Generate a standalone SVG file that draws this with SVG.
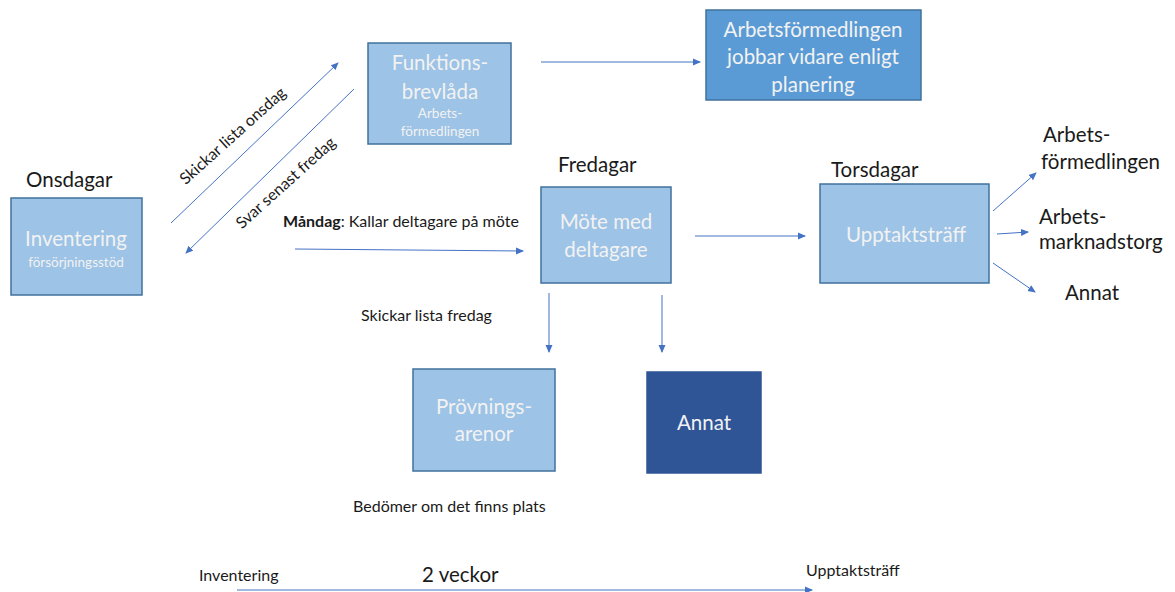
<svg xmlns="http://www.w3.org/2000/svg" width="1175" height="592" viewBox="0 0 1175 592">
<style>
text{font-family:Lato,"Open Sans","Liberation Sans",sans-serif}
.box{fill:#9dc3e6;stroke:#41719c;stroke-width:1.5}
.dark{fill:#2f5597;stroke:#2f5597;stroke-width:1.5}
.mid{fill:#5b9bd5;stroke:#41719c;stroke-width:1.5}
.bt{fill:#f2f2f2;font-size:20.5px;text-anchor:middle}
.bs{fill:#f2f2f2;font-size:13.5px;text-anchor:middle}
.lb{fill:#1a1a1a;font-size:20.5px}
.sm{fill:#1a1a1a;font-size:16px}
.ln{stroke:#4472c4;stroke-width:1;fill:none;marker-end:url(#ah)}
</style>
<defs>
<marker id="ah" markerWidth="8" markerHeight="8" refX="7" refY="4" orient="auto" markerUnits="userSpaceOnUse">
<path d="M0,0.5 L8,4 L0,7.5 Z" fill="#4472c4"/>
</marker>
</defs>
<rect width="1175" height="592" fill="#fff"/>
<g id="connectors">
<line class="ln" x1="171" y1="223" x2="338" y2="63"/>
<line class="ln" x1="354" y1="89" x2="186" y2="253"/>
<line class="ln" x1="295" y1="249" x2="523" y2="251"/>
<line class="ln" x1="541" y1="62" x2="700" y2="62"/>
<line class="ln" x1="695" y1="236" x2="805" y2="236"/>
<line class="ln" x1="993" y1="211" x2="1036" y2="173"/>
<line class="ln" x1="997" y1="234" x2="1028" y2="232"/>
<line class="ln" x1="993" y1="263" x2="1035" y2="292"/>
<line class="ln" x1="549" y1="293" x2="549" y2="352"/>
<line class="ln" x1="662" y1="295" x2="662" y2="352"/>
<line class="ln" x1="237" y1="590" x2="812" y2="590"/>
</g>
<g id="labels">
<text class="sm" transform="translate(233,136) rotate(-42)" text-anchor="middle" dy="5">Skickar lista onsdag</text>
<text class="sm" transform="translate(286,183) rotate(-42)" text-anchor="middle" dy="5">Svar senast fredag</text>
<text class="sm" x="283" y="227"><tspan font-weight="bold">Måndag</tspan>: Kallar deltagare på möte</text>
<text class="lb" x="26" y="187">Onsdagar</text>
<text class="lb" x="558" y="172">Fredagar</text>
<text class="lb" x="831" y="177">Torsdagar</text>
<text class="lb" x="1043" y="142">Arbets-</text>
<text class="lb" x="1041" y="169">förmedlingen</text>
<text class="lb" x="1039" y="224">Arbets-</text>
<text class="lb" x="1039" y="249">marknadstorg</text>
<text class="lb" x="1065" y="300">Annat</text>
<text class="sm" x="361" y="321">Skickar lista fredag</text>
<text class="sm" x="353" y="512">Bedömer om det finns plats</text>
<text class="sm" x="199" y="581" font-size="15.5">Inventering</text>
<text class="lb" x="422" y="582">2 veckor</text>
<text class="sm" x="806" y="576" font-size="15.5">Upptaktsträff</text>
</g>
<g id="inventering">
<rect class="box" x="11" y="198" width="131" height="97"/>
<text class="bt" x="76" y="246">Inventering</text>
<text class="bs" x="76" y="267">försörjningsstöd</text>
</g>
<g id="funktionsbrevlada">
<rect class="box" x="368" y="43" width="143" height="101"/>
<text class="bt" x="440" y="70">Funktions-</text>
<text class="bt" x="440" y="99">brevlåda</text>
<text class="bs" x="440" y="118" font-size="14">Arbets-</text>
<text class="bs" x="440" y="136" font-size="14">förmedlingen</text>
</g>
<g id="arbetsformedlingen">
<rect class="mid" x="706" y="10" width="215" height="90"/>
<text class="bt" x="813" y="37">Arbetsförmedlingen</text>
<text class="bt" x="813" y="64">jobbar vidare enligt</text>
<text class="bt" x="813" y="92">planering</text>
</g>
<g id="mote">
<rect class="box" x="541" y="187" width="130" height="96"/>
<text class="bt" x="606" y="229">Möte med</text>
<text class="bt" x="606" y="257">deltagare</text>
</g>
<g id="upptakt">
<rect class="box" x="820" y="184" width="169" height="99"/>
<text class="bt" x="906" y="242">Upptaktsträff</text>
</g>
<g id="provning">
<rect class="box" x="413" y="369" width="142" height="102"/>
<text class="bt" x="484" y="414">Prövnings-</text>
<text class="bt" x="484" y="441">arenor</text>
</g>
<g id="annat">
<rect class="dark" x="647" y="372" width="114" height="101"/>
<text class="bt" x="704" y="430">Annat</text>
</g>
</svg>
